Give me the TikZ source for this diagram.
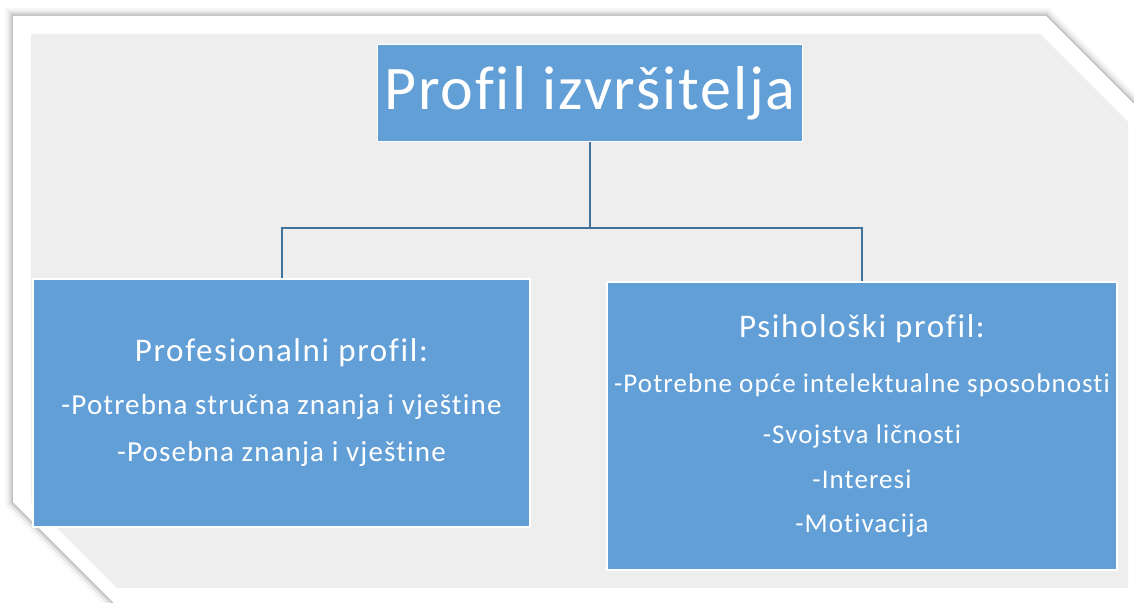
\documentclass[tikz,border=0pt]{standalone}
\usepackage{fontspec}
\setmainfont[Ligatures=NoCommon]{Carlito}
\usetikzlibrary{positioning}
\definecolor{boxblue}{RGB}{98,159,215}
\definecolor{linkblue}{RGB}{65,113,156}
\definecolor{panelgray}{RGB}{238,238,238}
\newcommand{\boxhead}[1]{{\fontsize{33}{35}\selectfont\addfontfeatures{LetterSpace=5}#1}}
\tikzset{box/.style = {fill=boxblue, draw=white, line width=1.5, text=white,
                       align=center, inner sep=0}}
\tikzset{link/.style = {draw=linkblue, line width=2}}
\tikzset{head/.style = {font=\fontsize{62}{62}\selectfont\addfontfeatures{LetterSpace=3}}}
\tikzset{body/.style = {font=\fontsize{#1}{35}\selectfont\addfontfeatures{LetterSpace=4}}}

\begin{document}
\begin{tikzpicture}[x=1pt, y=-1pt]
      \useasboundingbox (0,0) rectangle (1134,602);
      % frame and soft shadow
      \foreach \w/\o in {16/0.03, 11/0.05, 7/0.07, 3/0.12}
        \draw [line width=\w, opacity=\o] (13,16) -- (1046,16) -- (1150,120) -- (1150,620) -- (131,620) -- (13,502) -- cycle;
      \fill [white] (13,16) -- (1046,16) -- (1150,120) -- (1150,620) -- (131,620) -- (13,502) -- cycle;
      \fill [panelgray] (31,34) -- (1040,34) -- (1128,122) -- (1128,588) -- (117,588) -- (31,502) -- cycle;

      \node [box, head, minimum width=425, minimum height=97] (title) at (590,93) {Profil izvršitelja};
      \node [box, body=29, minimum width=497, minimum height=248] (prof) at (281.5,403)
        {\boxhead{Profesionalni profil:}\\[18pt]
         -Potrebna stručna znanja i vještine\\[12pt]
         -Posebna znanja i vještine};
      \node [box, body=27, minimum width=510, minimum height=288] (psih) at (862,426)
        {\boxhead{Psihološki profil:}\\[20pt]
         -Potrebne opće intelektualne sposobnosti\\[16pt]
         -Svojstva ličnosti\\[10pt]
         -Interesi\\[9pt]
         -Motivacija};

      \coordinate (split) at (590,228);
      \draw [link] (title.south) -- (split) -| (prof.north);
      \draw [link] (split) -| (psih.north);
    \end{tikzpicture}
\end{document}
